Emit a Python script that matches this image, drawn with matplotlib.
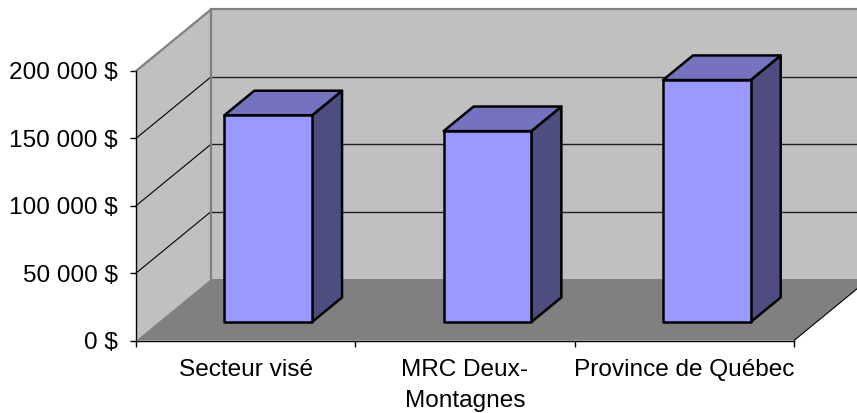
import matplotlib
matplotlib.use('Agg')
import matplotlib.pyplot as plt
from matplotlib.patches import Polygon

categories = ['Secteur visé', 'MRC Deux-\nMontagnes', 'Province de Québec']
valeurs = [153400, 141700, 179600]
yticks = [0, 50000, 100000, 150000, 200000]
ylabels = ['0 $', '50 000 $', '100 000 $', '150 000 $', '200 000 $']

plt.rcParams['font.family'] = ['Liberation Sans', 'DejaVu Sans']

W, H = 857, 413
fig = plt.figure(figsize=(W / 100, H / 100), dpi=100)

# axe avant : 136-794 px en x, 340.5-71 px en y
ax = fig.add_axes([136 / W, (H - 340.5) / H, 658 / W, 269.5 / H])
ax.set_xlim(0, 3)
ax.set_ylim(0, 200000)
ax.patch.set_visible(False)

# profondeur du graphique 3D, en unites de donnees
px_x = 3 / 658
px_y = 200000 / 269.5
prof_x = 75 * px_x
prof_y = 61.5 * px_y


def proj(x, y, d):
    return (x + prof_x * d, y + prof_y * d)


def poly(pts, **kw):
    ax.add_patch(Polygon([proj(*p) for p in pts], closed=True, clip_on=False, **kw))


def ligne(p1, p2, **kw):
    a, b = proj(*p1), proj(*p2)
    ax.plot([a[0], b[0]], [a[1], b[1]], clip_on=False, solid_capstyle='round', **kw)


# murs et plancher
poly([(0, 0, 1), (3, 0, 1), (3, 200000, 1), (0, 200000, 1)], fc='#C0C0C0', ec='none', zorder=1)
poly([(0, 0, 0), (0, 0, 1), (0, 200000, 1), (0, 200000, 0)], fc='#C0C0C0', ec='none', zorder=1)
poly([(0, 0, 0), (3, 0, 0), (3, 0, 1), (0, 0, 1)], fc='#808080', ec='none', zorder=1.5)

# grille
for v in yticks[1:-1]:
    ligne((0, v, 0), (0, v, 1), color='black', lw=0.8, zorder=2)
    ligne((0, v, 1), (3, v, 1), color='#202020', lw=1.0, zorder=2)

# contours gris des murs
ligne((0, 200000, 0), (0, 200000, 1), color='#808080', lw=1.6, zorder=2)
ligne((0, 200000, 1), (3, 200000, 1), color='#808080', lw=1.6, zorder=2)
ligne((0, 0, 1), (0, 200000, 1), color='#808080', lw=1.6, zorder=2)
ligne((3, 0, 0), (3, 0, 1), color='black', lw=0.8, zorder=2)

# barres
largeur = 0.4
d0, d1 = 0.3, 0.7
for i, v in enumerate(valeurs):
    x0 = i + 0.5 - largeur / 2
    x1 = i + 0.5 + largeur / 2
    style = dict(ec='black', lw=1.8, joinstyle='round', zorder=3)
    poly([(x1, 0, d0), (x1, 0, d1), (x1, v, d1), (x1, v, d0)], fc='#4D4D80', **style)
    poly([(x0, v, d0), (x1, v, d0), (x1, v, d1), (x0, v, d1)], fc='#7373BF', **style)
    poly([(x0, 0, d0), (x1, 0, d0), (x1, v, d0), (x0, v, d0)], fc='#9999FF', **style)

# axes
for cote in ['top', 'right']:
    ax.spines[cote].set_visible(False)
for cote in ['left', 'bottom']:
    ax.spines[cote].set_linewidth(1.0)
    ax.spines[cote].set_zorder(4)

ax.set_yticks(yticks)
ax.set_yticklabels(ylabels, fontsize=17.6)
ax.set_xticks([0, 1, 2, 3])
ax.set_xticklabels([])
ax.set_xticks([0.5, 1.5, 2.5], labels=categories, minor=True, fontsize=17.6, linespacing=1.55)
ax.tick_params(axis='y', length=4, width=1.0, pad=9)
ax.tick_params(axis='x', which='major', length=4.5, width=1.0)
ax.tick_params(axis='x', which='minor', length=0, pad=13)

fig.savefig('out.png', dpi=100)
